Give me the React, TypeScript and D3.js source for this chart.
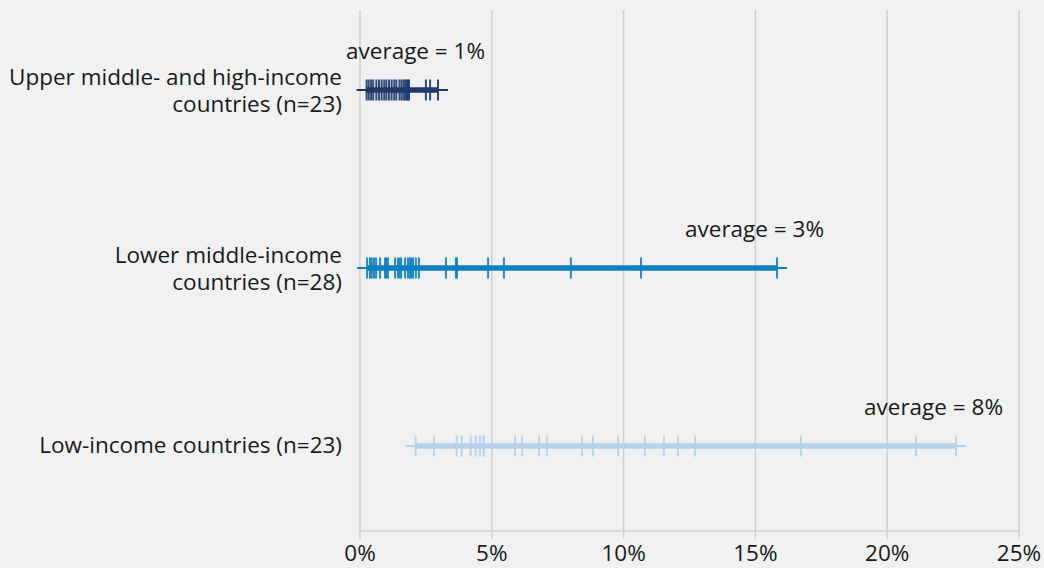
import React from "react";
import * as d3 from "d3";

const categories = [
  "Upper middle- and high-income countries (n=23)",
  "Lower middle-income countries (n=28)",
  "Low-income countries (n=23)",
];
const labelLines = [
  ["Upper middle- and high-income", "countries (n=23)"],
  ["Lower middle-income", "countries (n=28)"],
  ["Low-income countries (n=23)"],
];
const upperValues = [
  0.25, 0.33, 0.42, 0.5, 0.62, 0.72, 0.82, 0.92, 1.0, 1.1, 1.2, 1.3, 1.38, 1.5, 1.58, 1.66, 1.72, 1.78, 1.82, 1.86, 2.5, 2.66, 2.96,
];
const lowerMiddleValues = [
  0.27, 0.38, 0.45, 0.53, 0.61, 0.76, 0.95, 1.0, 1.06, 1.33, 1.44, 1.5, 1.56, 1.71, 1.82, 1.9, 1.95, 2.01, 2.12, 2.24,
  3.26, 3.64, 3.68, 4.86, 5.46, 8.0, 10.66, 15.82,
];
const lowValues = [
  2.11, 2.81, 3.67, 3.86, 4.2, 4.39, 4.55, 4.69, 4.7, 5.88, 6.15, 6.79, 7.09, 8.42, 8.84, 9.79, 10.81, 11.53, 12.06,
  12.71, 16.73, 21.09, 22.61,
];
const seriesValues = [upperValues, lowerMiddleValues, lowValues];
const averageLabels = ["average = 1%", "average = 3%", "average = 8%"];
const colors = ["#1d3a6e", "#0a80c4", "#b5d1ec"];
const xTicks = [0, 5, 10, 15, 20, 25];

const W = 1044;
const H = 568;
const FONT = "'Open Sans', 'Noto Sans', sans-serif";
const FS = 22.5;

export default function App() {
  const x = d3.scaleLinear().domain([0, 25]).range([360, 1019]);
  const y = d3.scalePoint<string>().domain(categories).range([90, 446]);
  const plotTop = 10;
  const plotBottom = 531;

  return (
    <svg
      width={W}
      height={H}
      style={{ position: "absolute", left: 0, top: 0, background: "#f0f1f0" }}
    >
      <rect x={0} y={0} width={W} height={H} fill="#f0f1f0" />
      {xTicks.map((t) => (
        <g key={t}>
          <line x1={x(t)} x2={x(t)} y1={plotTop} y2={plotBottom + 8} stroke="#cfd0cf" strokeWidth={1.5} />
          <text
            x={x(t)}
            y={561}
            textAnchor="middle"
            fontFamily={FONT}
            fontSize={FS}
            fill="#1a1a1a"
          >
            {t}%
          </text>
        </g>
      ))}
      <line x1={x(0)} x2={x(25)} y1={plotBottom} y2={plotBottom} stroke="#cfd0cf" strokeWidth={1.5} />

      {categories.map((c, i) => {
        const vals = seriesValues[i];
        const cy = y(c)!;
        const mn = d3.min(vals)!;
        const mx = d3.max(vals)!;
        const lines = labelLines[i];
        return (
          <g key={c}>
            <line x1={x(mn) - 10} x2={x(mx) + 10} y1={cy} y2={cy} stroke={colors[i]} strokeWidth={2} />
            <line x1={x(mn)} x2={x(mx)} y1={cy} y2={cy} stroke={colors[i]} strokeWidth={5.5} />
            {vals.map((v, j) => (
              <line
                key={j}
                x1={x(v)}
                x2={x(v)}
                y1={cy - 10.5}
                y2={cy + 10.5}
                stroke={colors[i]}
                strokeWidth={2}
                opacity={0.9}
              />
            ))}
            {lines.map((ln, k) => (
              <text
                key={k}
                x={342}
                y={lines.length === 2 ? cy - 5 + k * 27 : cy + 7}
                textAnchor="end"
                fontFamily={FONT}
                fontSize={FS}
                fill="#1a1a1a"
              >
                {ln}
              </text>
            ))}
            <text
              x={x(mx) + 47}
              y={cy - 31}
              textAnchor="end"
              fontFamily={FONT}
              fontSize={FS}
              fill="#1a1a1a"
            >
              {averageLabels[i]}
            </text>
          </g>
        );
      })}
    </svg>
  );
}
